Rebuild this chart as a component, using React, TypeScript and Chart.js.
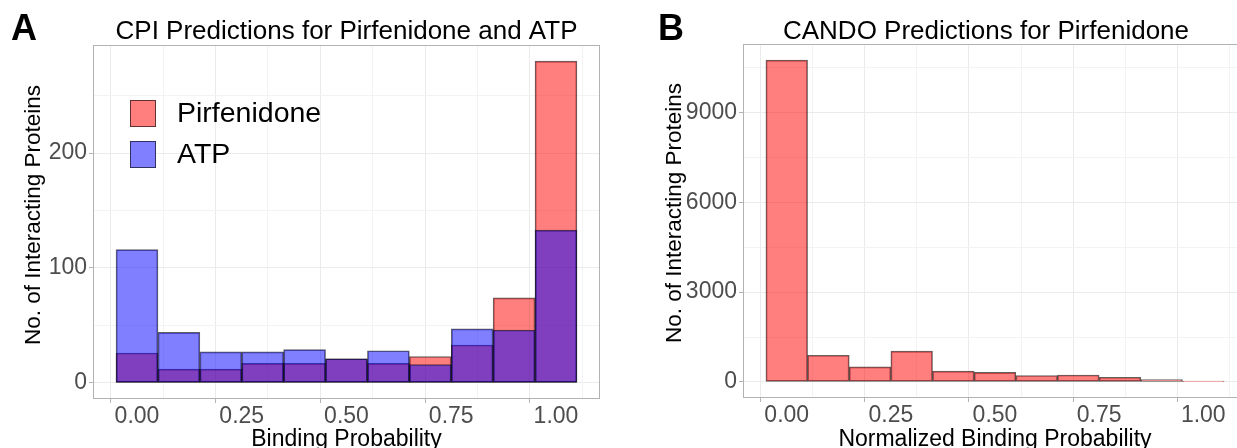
import { useEffect, useRef } from "react";
import { Chart, registerables } from "chart.js";

Chart.register(...registerables);

// ---------- data ----------
const BIN_CENTERS = [0, 0.1, 0.2, 0.3, 0.4, 0.5, 0.6, 0.7, 0.8, 0.9, 1.0];
const CPI_PIRFENIDONE = [26, 12, 12, 17, 17, 21, 17, 23, 33, 74, 280];
const CPI_ATP = [116, 44, 27, 27, 29, 21, 28, 16, 47, 46, 133];
const CANDO_PIRFENIDONE = [10750, 890, 500, 1030, 360, 320, 215, 230, 155, 75, 25];

const X_MAJOR_TICKS = [0, 0.25, 0.5, 0.75, 1];
const X_MINOR_TICKS = [0.125, 0.375, 0.625, 0.875];
const CPI_Y_MAJOR = [0, 100, 200];
const CPI_Y_MINOR = [50, 150, 250];
const CANDO_Y_MAJOR = [0, 3000, 6000, 9000];
const CANDO_Y_MINOR = [1500, 4500, 7500, 10500];

const X_RANGE = [-0.105, 1.105];
const CPI_Y_RANGE = [-14, 294];
const CANDO_Y_RANGE = [-537, 11287];

// ---------- style ----------
const FONT = "'Liberation Sans', Arial, Helvetica, sans-serif";
const PIRF_FILL = "rgba(255,0,0,0.5)";
const ATP_FILL = "rgba(0,0,255,0.5)";
const BAR_BORDER = "rgba(0,0,0,0.62)";
const GRID_MAJOR = "#ebebeb";
const GRID_MINOR = "#f3f3f3";
const FRAME = "#b3b3b3";
const TICK_TEXT = "#4d4d4d";

type Series = { label: string; values: number[]; fill: string; order: number };
type PanelSpec = {
  left: number;
  canvasW: number;
  canvasH: number;
  area: { left: number; top: number; right: number; bottom: number };
  series: Series[];
  yMajor: number[];
  yMinor: number[];
  yRange: number[];
  letter: string;
  letterX: number;
  title: string;
  titleX: number;
  xTitle: string;
  yTitle: string;
  yTitleX: number;
  yTitleY: number;
  legend: boolean;
};

const textPlugin = (spec: PanelSpec) => ({
  id: "panelText",
  afterDatasetsDraw(chart: any) {
    const ctx = chart.ctx;
    const a = chart.chartArea;
    ctx.save();
    ctx.strokeStyle = FRAME;
    ctx.lineWidth = 1;
    ctx.strokeRect(Math.round(a.left) + 0.5, Math.round(a.top) + 0.5, Math.round(a.right - a.left) - 1, Math.round(a.bottom - a.top) - 1);
    ctx.restore();
  },
  afterDraw(chart: any) {
    const ctx = chart.ctx;
    const a = chart.chartArea;
    ctx.save();
    ctx.fillStyle = "#000";
    ctx.textBaseline = "alphabetic";
    // panel letter
    ctx.font = `bold 36px ${FONT}`;
    ctx.textAlign = "left";
    ctx.fillText(spec.letter, spec.letterX, 40);
    // title
    ctx.font = `26px ${FONT}`;
    ctx.textAlign = "center";
    ctx.fillText(spec.title, spec.titleX, 39);
    // x title
    ctx.font = `23px ${FONT}`;
    ctx.fillText(spec.xTitle, (a.left + a.right) / 2, 446);
    // y title
    ctx.save();
    ctx.font = `22.5px ${FONT}`;
    ctx.translate(spec.yTitleX, spec.yTitleY);
    ctx.rotate(-Math.PI / 2);
    ctx.fillText(spec.yTitle, 0, 0);
    ctx.restore();
    // legend
    if (spec.legend) {
      const rows = [
        { y: 100, base: 122 },
        { y: 141, base: 163 },
      ];
      chart.data.datasets.forEach((ds: any, i: number) => {
        const r = rows[i];
        if (!r) return;
        ctx.fillStyle = "#fff";
        ctx.fillRect(130, r.y, 26, 27);
        ctx.fillStyle = ds.backgroundColor;
        ctx.fillRect(130, r.y, 26, 27);
        ctx.strokeStyle = BAR_BORDER;
        ctx.lineWidth = 1;
        ctx.strokeRect(130.5, r.y + 0.5, 25, 26);
        ctx.fillStyle = "#000";
        ctx.font = `28.5px ${FONT}`;
        ctx.textAlign = "left";
        ctx.fillText(ds.label, 177, r.base);
      });
    }
    ctx.restore();
  },
});

function Panel({ spec }: { spec: PanelSpec }) {
  const ref = useRef<HTMLCanvasElement | null>(null);
  useEffect(() => {
    if (!ref.current) return;
    const { area, canvasW, canvasH } = spec;
    const xTicks = [...X_MAJOR_TICKS, ...X_MINOR_TICKS].sort((p, q) => p - q);
    const yTicks = [...spec.yMajor, ...spec.yMinor].sort((p, q) => p - q);
    const chart = new Chart(ref.current, {
      type: "bar",
      data: {
        datasets: spec.series.map((s) => ({
          label: s.label,
          data: BIN_CENTERS.map((x, i) => ({ x, y: s.values[i] })),
          backgroundColor: s.fill,
          borderColor: BAR_BORDER,
          borderWidth: 1,
          borderSkipped: false,
          barPercentage: 1,
          categoryPercentage: 1,
          grouped: false,
          order: s.order,
        })),
      } as any,
      options: {
        animation: false,
        responsive: false,
        devicePixelRatio: 1,
        layout: { padding: { top: area.top, right: canvasW - area.right, bottom: 0, left: 0 } },
        plugins: {
          legend: { display: false },
          tooltip: { enabled: false },
          title: { display: false },
        },
        scales: {
          x: {
            type: "linear",
            min: X_RANGE[0],
            max: X_RANGE[1],
            offset: false,
            afterBuildTicks: (s: any) => {
              s.ticks = xTicks.map((v) => ({ value: v }));
            },
            afterFit: (s: any) => {
              s.height = canvasH - area.bottom;
            },
            ticks: {
              autoSkip: false,
              maxRotation: 0,
              padding: 0,
              color: TICK_TEXT,
              font: { family: FONT, size: 23 },
              callback: (v: any) => (X_MAJOR_TICKS.includes(Number(v)) ? Number(v).toFixed(2) : ""),
            },
            grid: {
              color: (c: any) => (X_MAJOR_TICKS.includes(c.tick?.value) ? GRID_MAJOR : GRID_MINOR),
              lineWidth: 1,
              tickLength: 4,
              tickColor: (c: any) => (X_MAJOR_TICKS.includes(c.tick?.value) ? FRAME : "rgba(0,0,0,0)"),
            },
            border: { display: false },
          },
          y: {
            type: "linear",
            min: spec.yRange[0],
            max: spec.yRange[1],
            afterBuildTicks: (s: any) => {
              s.ticks = yTicks.map((v) => ({ value: v }));
            },
            afterFit: (s: any) => {
              s.width = area.left;
            },
            ticks: {
              autoSkip: false,
              padding: 2,
              color: TICK_TEXT,
              font: { family: FONT, size: 23 },
              callback: (v: any) => (spec.yMajor.includes(Number(v)) ? String(v) : ""),
            },
            grid: {
              color: (c: any) => (spec.yMajor.includes(c.tick?.value) ? GRID_MAJOR : GRID_MINOR),
              lineWidth: 1,
              tickLength: 4,
              tickColor: (c: any) => (spec.yMajor.includes(c.tick?.value) ? FRAME : "rgba(0,0,0,0)"),
            },
            border: { display: false },
          },
        },
      } as any,
      plugins: [textPlugin(spec)],
    });
    return () => chart.destroy();
  }, [spec]);
  return (
    <canvas
      ref={ref}
      width={spec.canvasW}
      height={spec.canvasH}
      style={{ position: "absolute", left: spec.left, top: 0, width: spec.canvasW, height: spec.canvasH }}
    />
  );
}

const LEFT_SPEC: PanelSpec = {
  left: 0,
  canvasW: 612,
  canvasH: 448,
  area: { left: 93, top: 45, right: 600, bottom: 399 },
  series: [
    { label: "Pirfenidone", values: CPI_PIRFENIDONE, fill: PIRF_FILL, order: 1 },
    { label: "ATP", values: CPI_ATP, fill: ATP_FILL, order: 0 },
  ],
  yMajor: CPI_Y_MAJOR,
  yMinor: CPI_Y_MINOR,
  yRange: CPI_Y_RANGE,
  letter: "A",
  letterX: 11,
  title: "CPI Predictions for Pirfenidone and ATP",
  titleX: 346.5,
  xTitle: "Binding Probability",
  yTitle: "No. of Interacting Proteins",
  yTitleX: 40,
  yTitleY: 215,
  legend: true,
};

const RIGHT_SPEC: PanelSpec = {
  left: 620,
  canvasW: 640,
  canvasH: 448,
  area: { left: 123, top: 44, right: 627, bottom: 398 },
  series: [{ label: "Pirfenidone", values: CANDO_PIRFENIDONE, fill: PIRF_FILL, order: 0 }],
  yMajor: CANDO_Y_MAJOR,
  yMinor: CANDO_Y_MINOR,
  yRange: CANDO_Y_RANGE,
  letter: "B",
  letterX: 38,
  title: "CANDO Predictions for Pirfenidone",
  titleX: 366,
  xTitle: "Normalized Binding Probability",
  yTitle: "No. of Interacting Proteins",
  yTitleX: 61,
  yTitleY: 213,
  legend: false,
};

export default function App() {
  return (
    <div
      style={{
        position: "absolute",
        left: 0,
        top: 0,
        width: 1237,
        height: 448,
        overflow: "hidden",
        background: "#fff",
      }}
    >
      <Panel spec={LEFT_SPEC} />
      <Panel spec={RIGHT_SPEC} />
    </div>
  );
}
